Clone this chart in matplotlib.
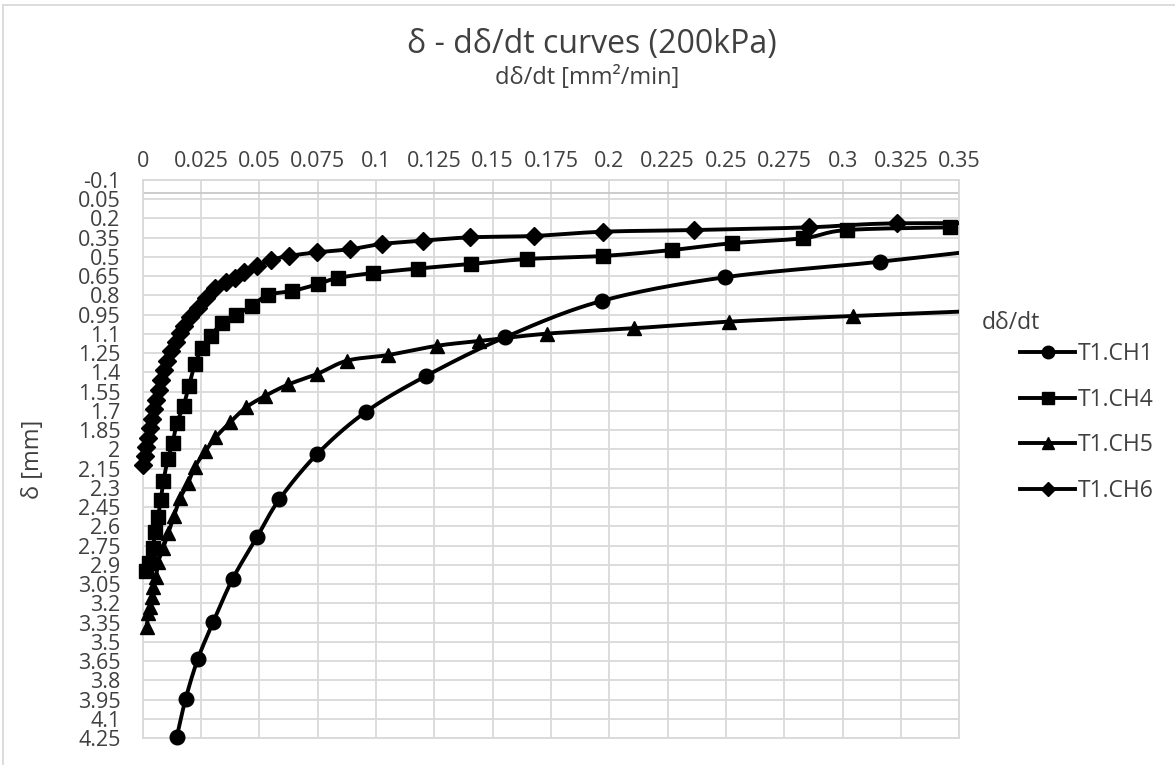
import numpy as np
import matplotlib
matplotlib.use("Agg")
import matplotlib.pyplot as plt
from matplotlib.lines import Line2D

plt.rcParams['font.family'] = ['Open Sans', 'DejaVu Sans']

# values (x = d delta/dt, y = delta)
ch1_x = [0.0146, 0.0184, 0.0236, 0.0303, 0.0386, 0.0491, 0.0586, 0.0748, 0.0956, 0.1214,
         0.1553, 0.1967, 0.2496, 0.3160, 0.40]
ch1_y = [4.244, 3.945, 3.636, 3.343, 3.008, 2.680, 2.389, 2.036, 1.708, 1.428,
         1.126, 0.843, 0.658, 0.537, 0.364]

ch4_x = [0.0016, 0.0029, 0.0044, 0.0053, 0.0066, 0.0077, 0.0089, 0.0108, 0.0128, 0.0147,
         0.0175, 0.0198, 0.0224, 0.0256, 0.0293, 0.0340, 0.0400, 0.0468, 0.0537, 0.0642,
         0.0752, 0.0835, 0.0988, 0.1180, 0.1405, 0.1646, 0.1974, 0.2267, 0.2525, 0.2832,
         0.3018, 0.3460]
ch4_y = [2.948, 2.885, 2.768, 2.644, 2.527, 2.394, 2.246, 2.075, 1.950, 1.794,
         1.661, 1.505, 1.334, 1.209, 1.115, 1.014, 0.952, 0.882, 0.796, 0.765,
         0.711, 0.664, 0.625, 0.590, 0.555, 0.516, 0.492, 0.446, 0.393, 0.354,
         0.290, 0.269]

ch5_x = [0.0017, 0.0024, 0.0031, 0.0039, 0.0045, 0.0057, 0.0067, 0.0088, 0.0110, 0.0134,
         0.0160, 0.0194, 0.0224, 0.0269, 0.0312, 0.0374, 0.0443, 0.0524, 0.0624, 0.0748,
         0.0877, 0.1053, 0.1263, 0.1443, 0.1732, 0.2106, 0.2514, 0.3046, 0.40]
ch5_y = [3.384, 3.275, 3.228, 3.150, 3.072, 2.994, 2.877, 2.768, 2.651, 2.519,
         2.382, 2.264, 2.135, 2.012, 1.907, 1.790, 1.673, 1.584, 1.494, 1.412,
         1.308, 1.264, 1.192, 1.155, 1.098, 1.056, 1.004, 0.960, 0.890]

ch6_x = [0.0003, 0.0010, 0.0016, 0.0023, 0.0031, 0.0040, 0.0048, 0.0057, 0.0068, 0.0078,
         0.0091, 0.0104, 0.0121, 0.0141, 0.0160, 0.0177, 0.0203, 0.0237, 0.0271, 0.0310,
         0.0355, 0.0396, 0.0434, 0.0488, 0.0550, 0.0627, 0.0746, 0.0889, 0.1024, 0.1203,
         0.1403, 0.1677, 0.1974, 0.2364, 0.2857, 0.3232, 0.40]
ch6_y = [2.121, 2.051, 1.981, 1.911, 1.833, 1.763, 1.685, 1.615, 1.537, 1.459,
         1.381, 1.311, 1.233, 1.163, 1.093, 1.038, 0.968, 0.898, 0.820, 0.742,
         0.695, 0.664, 0.617, 0.574, 0.524, 0.492, 0.464, 0.440, 0.399, 0.373,
         0.347, 0.336, 0.303, 0.290, 0.269, 0.238, 0.240]

labels = ['T1.CH1', 'T1.CH4', 'T1.CH5', 'T1.CH6']
markers = ['o', 's', '^', 'D']
series = [(ch1_x, ch1_y), (ch4_x, ch4_y), (ch5_x, ch5_y), (ch6_x, ch6_y)]

x_ticks = np.arange(0, 0.3501, 0.025)
y_ticks = np.arange(-0.1, 4.2501, 0.15)

txt = '#404040'
grid = '#D9D9D9'

fig = plt.figure(figsize=(11.75, 7.65), dpi=100)
ax = fig.add_axes([142.7 / 1175, 1 - 738 / 765, 816.6 / 1175, 558 / 765])
ax.set_xlim(0, 0.35)
ax.set_ylim(4.25, -0.1)


def smooth(xs, ys, n=24):
    # Excel-like smoothed line: Catmull-Rom as cubic Bezier, done in pixel space
    pts = ax.transData.transform(np.column_stack([xs, ys]))
    p = np.vstack([pts[0], pts, pts[-1]])
    out = [pts[0]]
    t = np.linspace(0, 1, n)[1:, None]
    for i in range(1, len(p) - 2):
        p0, p1, p2, p3 = p[i - 1], p[i], p[i + 1], p[i + 2]
        c1 = p1 + (p2 - p0) / 6
        c2 = p2 - (p3 - p1) / 6
        seg = (1 - t) ** 3 * p1 + 3 * (1 - t) ** 2 * t * c1 + 3 * (1 - t) * t ** 2 * c2 + t ** 3 * p2
        out.extend(seg)
    res = ax.transData.inverted().transform(np.array(out))
    return res[:, 0], res[:, 1]


handles = []
for (xs, ys), m, lab in zip(series, markers, labels):
    xs = np.array(xs)
    ys = np.array(ys)
    sx, sy = smooth(xs, ys)
    ax.plot(sx, sy, color='black', lw=2.8, zorder=3)
    inside = xs <= 0.35
    ms = 9 if m == 'D' else 10.5
    ax.plot(xs[inside], ys[inside], ls='none', marker=m, ms=ms, color='black', clip_on=False, zorder=4)
    handles.append(Line2D([], [], color='black', lw=2.8, marker=m, ms=ms - 1.5))

ax.set_xticks(x_ticks)
ax.set_xticklabels([f"{round(v, 3):g}" for v in x_ticks])
ax.set_yticks(y_ticks)
ax.set_yticklabels([f"{round(v, 3):g}" for v in y_ticks])
ax.xaxis.tick_top()
ax.tick_params(axis='x', length=0, pad=6, labelsize=15.5, labelcolor=txt)
ax.tick_params(axis='y', length=0, pad=16, labelsize=15.5, labelcolor=txt)

ax.grid(True, color=grid, lw=1.3)
ax.set_axisbelow(True)
for s in ax.spines.values():
    s.set_color(grid)
    s.set_linewidth(1.3)
ax.axhline(0, color='#C8C8C8', lw=1.3, zorder=1)

ax.xaxis.set_label_position('top')
ax.set_xlabel('dδ/dt [mm²/min]', fontsize=17, color=txt)
ax.xaxis.set_label_coords(0.544, 1.172)
ax.set_ylabel('δ [mm]', fontsize=17, color=txt)
ax.yaxis.set_label_coords(-0.12, 0.5)

fig.text(592 / 1175, 1 - 45 / 765, 'δ - dδ/dt curves (200kPa)', fontsize=23, color=txt,
         ha='center', va='center')

fig.text(982 / 1175, 1 - 323 / 765, 'dδ/dt', fontsize=16.5, color=txt, ha='left', va='center')
fig.legend(handles, labels, loc='center left', bbox_to_anchor=(1020 / 1175, 1 - 422.5 / 765),
           frameon=False, fontsize=16.5, labelcolor=txt, borderpad=0, borderaxespad=0,
           handlelength=2.4, handletextpad=0.1, labelspacing=0.95, numpoints=1)

# chart area border
fig.add_artist(Line2D([3 / 1175, 3 / 1175], [0, 1 - 5 / 765], color=grid, lw=1.3))
fig.add_artist(Line2D([3 / 1175, 1], [1 - 5 / 765, 1 - 5 / 765], color=grid, lw=1.3))

fig.savefig('out.png', dpi=100)
